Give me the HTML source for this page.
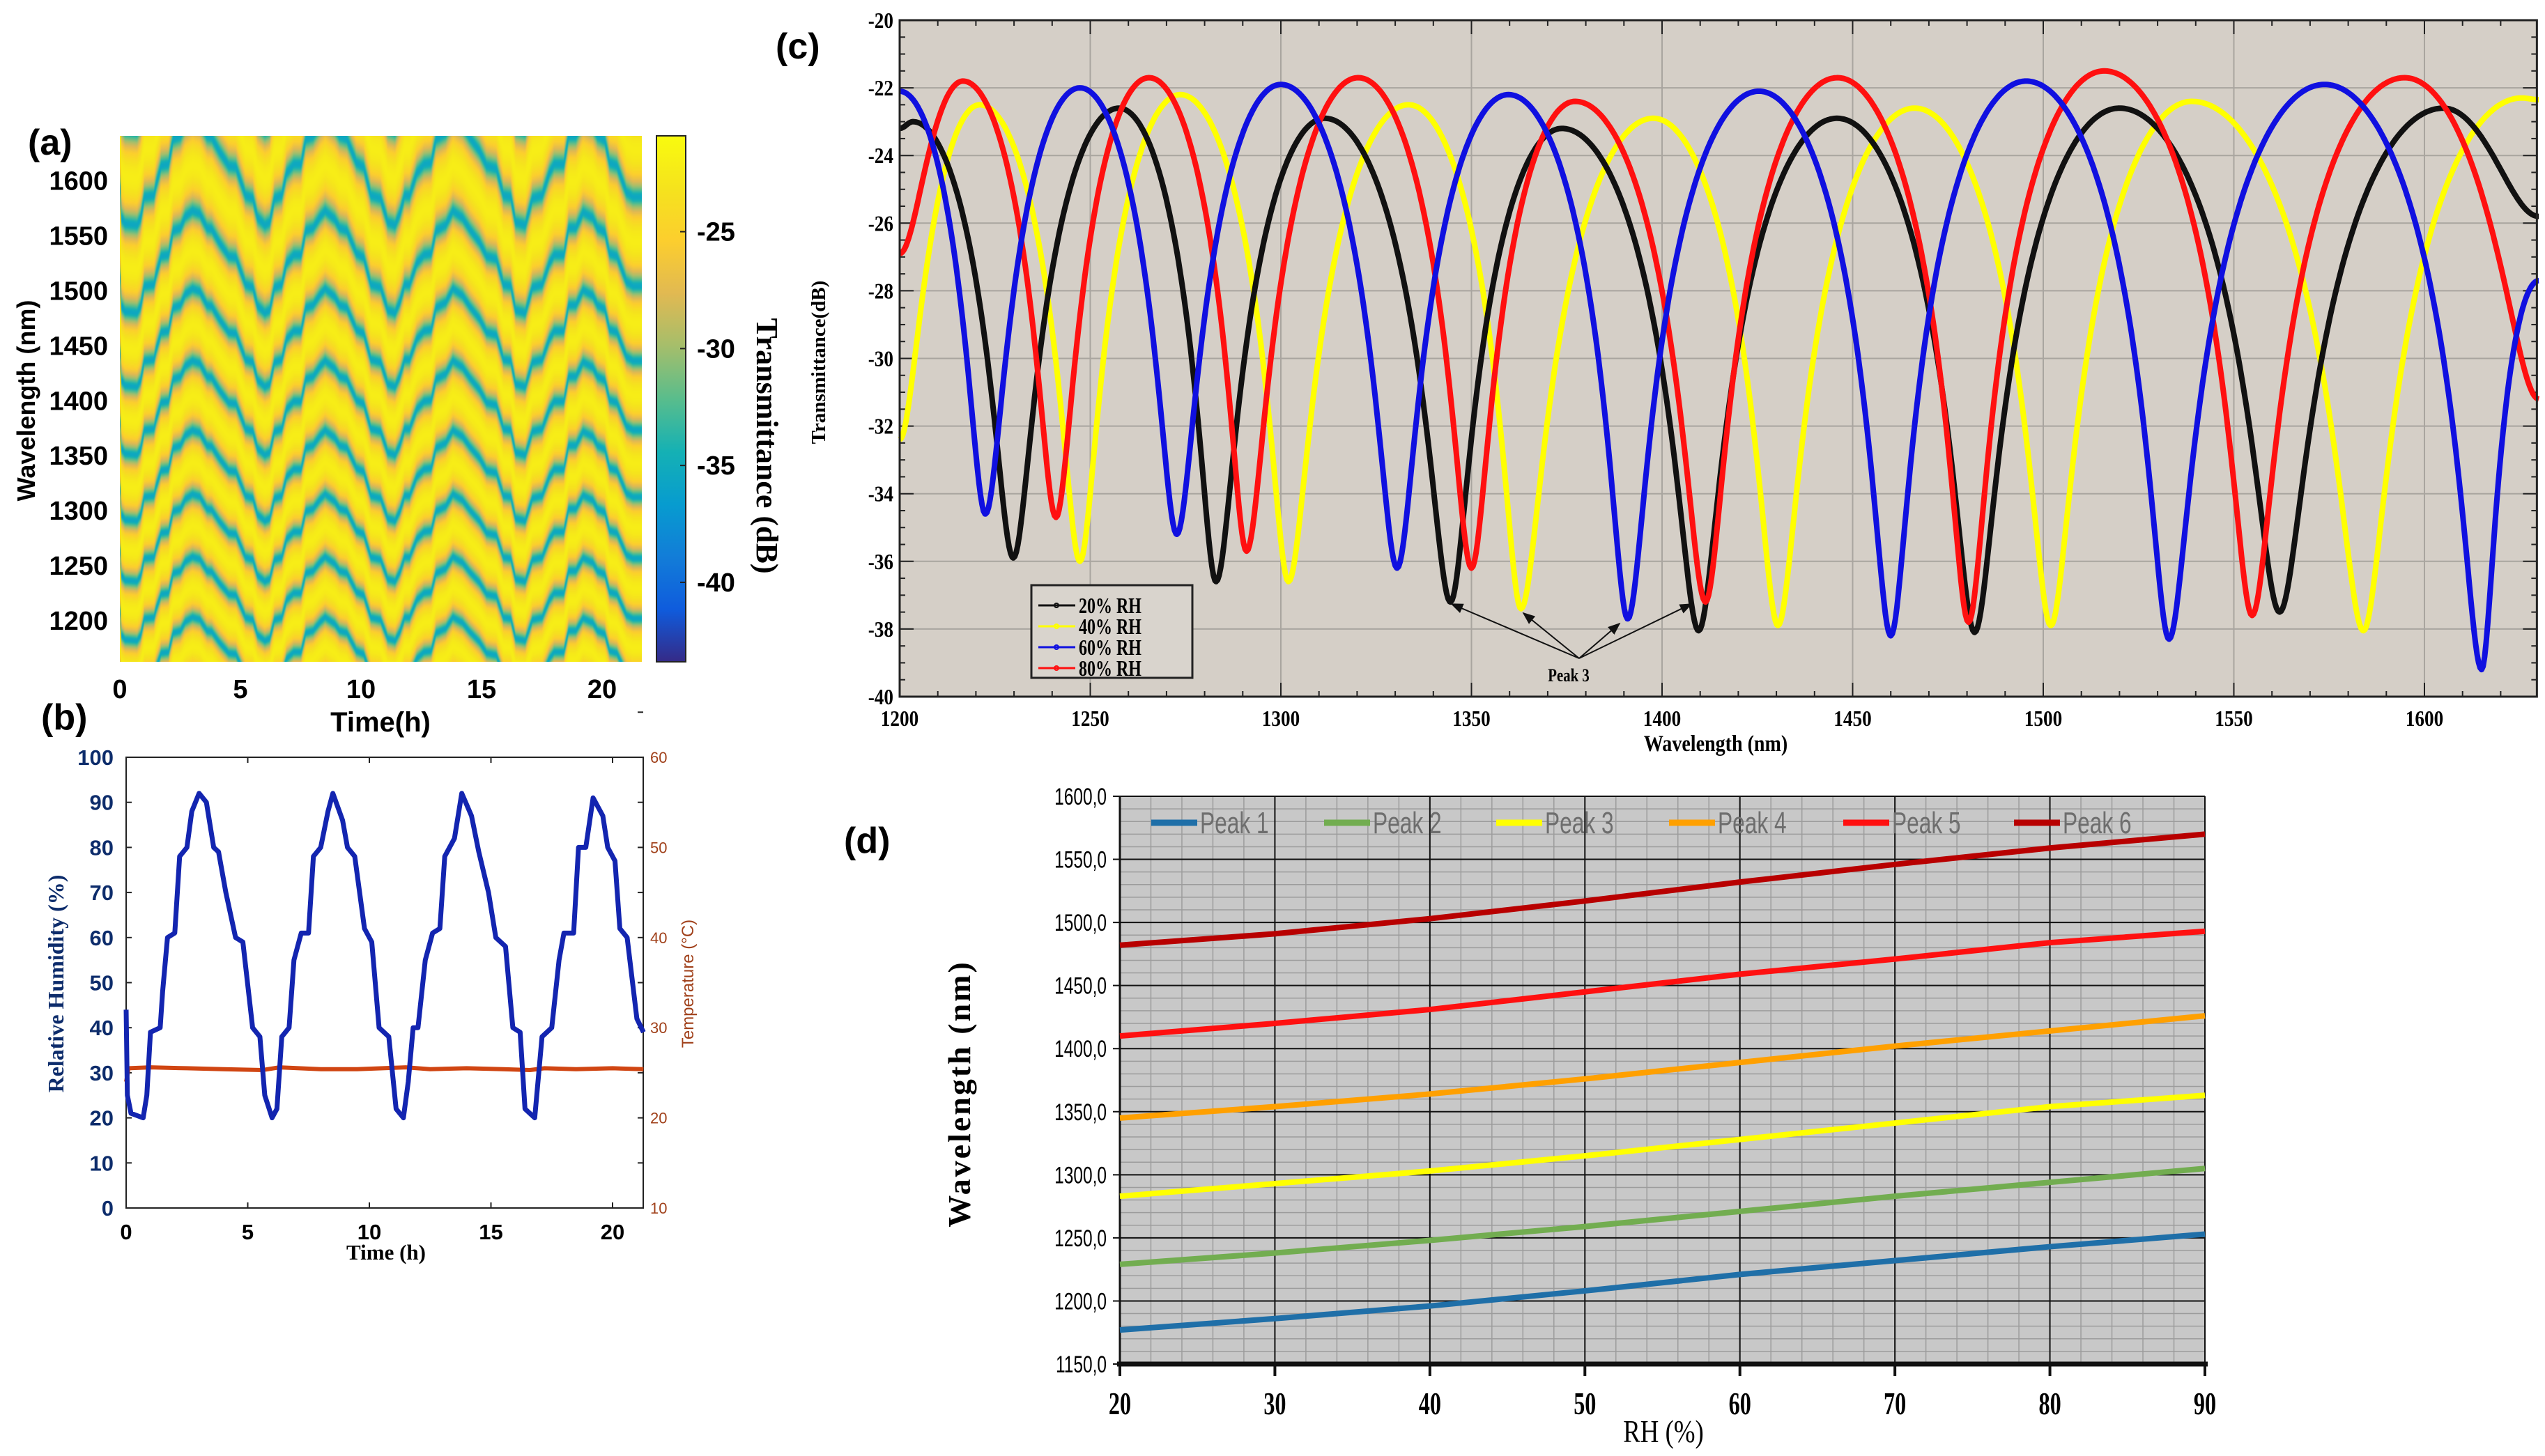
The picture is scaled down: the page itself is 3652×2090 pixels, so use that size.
<!DOCTYPE html>
<html><head><meta charset="utf-8">
<style>
body{margin:0;width:3652px;height:2090px;background:#fff;position:relative;overflow:hidden}
svg text{font-family:"Liberation Sans",sans-serif}
.serif{font-family:"Liberation Serif",serif}
</style></head>
<body>
<svg id="s" width="3652" height="2090" style="position:absolute;left:0;top:0">
<defs>
<linearGradient id="parula" x1="0" y1="1" x2="0" y2="0">
<stop offset="0" stop-color="#352a87"/><stop offset="0.1" stop-color="#0f5cdd"/><stop offset="0.2" stop-color="#127dd8"/><stop offset="0.3" stop-color="#079ccf"/><stop offset="0.4" stop-color="#15b1b4"/><stop offset="0.5" stop-color="#59bd8c"/><stop offset="0.6" stop-color="#a5be6b"/><stop offset="0.7" stop-color="#e1b952"/><stop offset="0.8" stop-color="#fcce2e"/><stop offset="0.9" stop-color="#f5e31d"/><stop offset="1" stop-color="#f9fb0e"/>
</linearGradient>
<marker id="ah" viewBox="0 0 10 10" refX="9" refY="5" markerWidth="9" markerHeight="9" orient="auto"><path d="M0,1 L10,5 L0,9 z" fill="#111"/></marker>
</defs>
<text x="40" y="222" font-size="52" font-weight="bold">(a)</text>
<text x="59" y="1047" font-size="52" font-weight="bold">(b)</text>
<text x="1113" y="84" font-size="52" font-weight="bold">(c)</text>
<text x="1211" y="1224" font-size="52" font-weight="bold">(d)</text>
<rect x="942" y="195" width="42" height="755" fill="url(#parula)" stroke="#222" stroke-width="2"/>
<text x="0" y="0" font-size="36" font-weight="bold" text-anchor="middle" transform="translate(50,575) rotate(-90)">Wavelength (nm)</text>
<text x="546" y="1050" font-size="40" font-weight="bold" text-anchor="middle">Time(h)</text>
<text class="serif" x="0" y="0" font-size="44" font-weight="bold" text-anchor="middle" transform="translate(1086,640) rotate(90)">Transmittance (dB)</text>
<text class="serif" x="0" y="0" font-size="32" font-weight="bold" fill="#0d2c6b" text-anchor="middle" transform="translate(91,1412) rotate(-90)">Relative Humidity (%)</text>
<text x="0" y="0" font-size="24" fill="#a0401a" text-anchor="middle" transform="translate(995,1412) rotate(-90)">Temperature (°C)</text>
<text class="serif" x="554" y="1808" font-size="31" font-weight="bold" text-anchor="middle">Time (h)</text>
<text class="serif" x="0" y="0" font-size="29" font-weight="bold" text-anchor="middle" transform="translate(1184,520) rotate(-90)">Transmittance(dB)</text>
<text class="serif" x="0" y="0" font-size="33" font-weight="bold" text-anchor="middle" transform="translate(2462,1078) scale(0.85,1)">Wavelength (nm)</text>
<text class="serif" x="0" y="0" font-size="46" font-weight="bold" text-anchor="middle" letter-spacing="3" transform="translate(1392,1570) rotate(-90)">Wavelength (nm)</text>
<text class="serif" x="0" y="0" font-size="46" text-anchor="middle" transform="translate(2387,2070) scale(0.8,1)">RH (%)</text>
</svg>
<canvas id="hm" width="749" height="755" style="position:absolute;left:172px;top:195px"></canvas>
<script>
const rhTime=[0,0.05,0.2,0.7,0.85,1.0,1.4,1.5,1.7,2.0,2.2,2.5,2.7,3.0,3.3,3.6,3.8,4.1,4.5,4.8,5.2,5.5,5.7,6.0,6.2,6.4,6.7,6.9,7.2,7.5,7.7,8.0,8.3,8.5,8.9,9.1,9.4,9.8,10.1,10.4,10.8,11.1,11.4,11.6,11.8,12.0,12.3,12.6,12.9,13.1,13.5,13.8,14.2,14.5,14.9,15.2,15.6,15.9,16.2,16.4,16.8,17.1,17.5,17.8,18.0,18.4,18.6,18.9,19.2,19.6,19.8,20.1,20.3,20.6,21.0,21.27];
const rhValues=[44,25,21,20,25,39,40,48,60,61,78,80,88,92,90,80,79,70,60,59,40,38,25,20,22,38,40,55,61,61,78,80,88,92,86,80,78,62,59,40,38,22,20,28,40,40,55,61,62,78,82,92,87,79,70,60,58,40,39,22,20,38,40,55,61,61,80,80,91,87,80,77,62,60,42,39];
const tempTime=[0,0.1,1,2.5,4,5.6,6.3,8,9.5,11.5,12.5,14,15.5,16.6,17.2,18.5,20,21.27];
const tempValues=[24,25.5,25.6,25.5,25.4,25.3,25.6,25.4,25.4,25.6,25.4,25.5,25.4,25.3,25.5,25.4,25.5,25.4];
const rh20Nm=[1200,1203.5,1229.8,1257.5,1283,1311.5,1344.5,1373.7,1409.6,1445.9,1482,1520,1562,1605,1630];
const rh20Db=[-23.2,-23.0,-35.9,-22.6,-36.6,-22.9,-37.2,-23.2,-38.05,-22.9,-38.1,-22.6,-37.5,-22.6,-25.8];
const rh40Nm=[1200,1221,1247.3,1273.6,1302,1333.5,1363,1397.7,1430.4,1466.3,1502,1539,1584,1625.5,1630];
const rh40Db=[-32.4,-22.5,-36.0,-22.2,-36.6,-22.5,-37.4,-22.9,-37.9,-22.6,-37.9,-22.4,-38.05,-22.3,-22.35];
const rh60Nm=[1200,1222.5,1247.3,1272.7,1300,1330.5,1359.7,1391,1425.4,1460,1495.5,1533,1573.8,1615,1630];
const rh60Db=[-22.1,-34.6,-22.0,-35.2,-21.9,-36.2,-22.2,-37.7,-22.1,-38.2,-21.8,-38.3,-21.9,-39.2,-27.7];
const rh80Nm=[1200,1216.6,1241,1265.4,1291,1320.3,1350,1377.2,1411.4,1446,1480.4,1516,1554.8,1594.8,1630];
const rh80Db=[-26.9,-21.8,-34.7,-21.7,-35.7,-21.7,-36.2,-22.4,-37.2,-21.7,-37.8,-21.5,-37.6,-21.7,-31.2];
const cLegend=['20% RH','40% RH','60% RH','80% RH'];
const rhLevels=[20,30,40,50,60,70,80,90];
const peak1=[1177,1186,1196,1208,1221,1232,1243,1253];
const peak2=[1229,1238,1248,1259,1271,1283,1294,1305];
const peak3=[1283,1293,1303,1315,1328,1341,1354,1363];
const peak4=[1345,1354,1364,1376,1389,1402,1414,1426];
const peak5=[1410,1420,1431,1445,1459,1471,1484,1493];
const peak6=[1482,1491,1503,1517,1532,1546,1559,1570];
const peakNames=['Peak 1','Peak 2','Peak 3','Peak 4','Peak 5','Peak 6'];
const baseDips=[1030,1080,1130,1182,1236,1291,1351,1413,1480,1560,1645,1735];
const aYTicks=[1200,1250,1300,1350,1400,1450,1500,1550,1600];
const aXTicks=[0,5,10,15,20];
const cbTicks=[-25,-30,-35,-40];
const bYTicks=[0,10,20,30,40,50,60,70,80,90,100];
const bXTicks=[0,5,10,15,20];
const bTTicks=[10,20,30,40,50,60];
const cXTicks=[1200,1250,1300,1350,1400,1450,1500,1550,1600];
const cYTicks=[-20,-22,-24,-26,-28,-30,-32,-34,-36,-38,-40];
const dYTicks=[1150,1200,1250,1300,1350,1400,1450,1500,1550,1600];
const dXTicks=[20,30,40,50,60,70,80,90];

const NS='http://www.w3.org/2000/svg';
const svg=document.getElementById('s');
function el(tag,attrs,parent){const e=document.createElementNS(NS,tag);for(const k in attrs)e.setAttribute(k,attrs[k]);(parent||svg).appendChild(e);return e;}
function txt(x,y,s,attrs){const e=el('text',Object.assign({x:x,y:y},attrs||{}));e.textContent=s;return e;}
function interp(xs,ys,x){if(x<=xs[0])return ys[0];for(let i=1;i<xs.length;i++){if(x<=xs[i]){const f=(x-xs[i-1])/(xs[i]-xs[i-1]);return ys[i-1]+f*(ys[i]-ys[i-1]);}}return ys[ys.length-1];}

// PANEL A
const aX=t=>172+t*34.6, aY=nm=>195+(1641-nm)*755/(1641-1162.6);
const cbY=v=>195+(-20.9-v)*755/22.5;
aYTicks.forEach(v=>{const t=txt(155,aY(v)+13,String(v),{'font-size':38,'font-weight':'bold','text-anchor':'end'});

});
aXTicks.forEach(v=>{const t=txt(aX(v),1002,String(v),{'font-size':38,'font-weight':'bold','text-anchor':'middle'});

});
cbTicks.forEach(v=>{const t=txt(1000,cbY(v)+13,String(v),{'font-size':38,'font-weight':'bold'});


const k=el('line',{x1:976,x2:984,y1:cbY(v),y2:cbY(v),stroke:'#222','stroke-width':2});

});
(function(){
 const cv=document.getElementById('hm'),ctx=cv.getContext('2d');const W=749,H=755;
 const img=ctx.createImageData(W,H);
 const stops=[[53,42,135],[15,92,221],[18,125,216],[7,156,207],[21,177,180],[89,189,140],[165,190,107],[225,185,82],[252,206,46],[245,227,29],[249,251,14]];
 function cmap(v){let f=(v+43.4)/22.5;f=Math.max(0,Math.min(0.9999,f))*10;const i=Math.floor(f),r=f-i;const a=stops[i],b=stops[i+1];return [a[0]+(b[0]-a[0])*r,a[1]+(b[1]-a[1])*r,a[2]+(b[2]-a[2])*r];}
 const Imax=Math.pow(10,-2.22),Imin=Math.pow(10,-3.55);
 for(let x=0;x<W;x++){
  const t=x/W*21.65;const rh=interp(rhTime,rhValues,t);
  const d=baseDips.map(b=>b+(1.06+(b-1182)*0.00077)*(rh-20));
  for(let y=0;y<H;y++){
   const nm=1641-y/H*(1641-1162.6);let k=0;while(k<d.length-2&&nm>d[k+1])k++;
   const f=(nm-d[k])/(d[k+1]-d[k]);
   const I=Imin+(Imax-Imin)*(1-Math.cos(2*Math.PI*f))/2;
   const c=cmap(10*Math.log10(I));const p=(y*W+x)*4;
   img.data[p]=c[0];img.data[p+1]=c[1];img.data[p+2]=c[2];img.data[p+3]=255;}
 }
 ctx.putImageData(img,0,0);
})();

// PANEL B
const bX=t=>181+t*34.9, bY=v=>1734-v*6.47, bT=c=>1734-(c-10)*12.94;
el('rect',{x:181,y:1087,width:742,height:647,fill:'none',stroke:'#222','stroke-width':2});
bYTicks.forEach(v=>{const t=txt(163,bY(v)+11,String(v),{'font-size':31,'font-weight':'bold',fill:'#0d2c6b','text-anchor':'end'});


el('line',{x1:181,x2:189,y1:bY(v),y2:bY(v),stroke:'#222','stroke-width':2});});
bXTicks.forEach(v=>{const t=txt(bX(v),1779,String(v),{'font-size':31,'font-weight':'bold','text-anchor':'middle'});


el('line',{x1:bX(v),x2:bX(v),y1:1734,y2:1726,stroke:'#222','stroke-width':2});
el('line',{x1:bX(v),x2:bX(v),y1:1087,y2:1095,stroke:'#222','stroke-width':2});});
bTTicks.forEach(v=>{const t=txt(933,bT(v)+8,String(v),{'font-size':22,fill:'#a0401a'});


el('line',{x1:915,x2:923,y1:bT(v),y2:bT(v),stroke:'#222','stroke-width':2});
el('line',{x1:915,x2:923,y1:bT(v+5),y2:bT(v+5),stroke:'#222','stroke-width':2});});
{const tl=el('polyline',{points:tempTime.map((t,i)=>bX(t)+','+bT(tempValues[i])).join(' '),fill:'none',stroke:'#d04512','stroke-width':6});


const rl=el('polyline',{points:rhTime.map((t,i)=>bX(t)+','+bY(rhValues[i])).join(' '),fill:'none',stroke:'#1325b0','stroke-width':7,'stroke-linejoin':'round'});

}

// PANEL C
const cX=nm=>1291+(nm-1200)*5.47, cY=db=>29+(-20-db)*48.55;
const cR=cX(1629.5);
el('rect',{x:1291,y:29,width:cR-1291,height:971,fill:'#d5cfc7'});
cXTicks.slice(1).forEach(v=>el('line',{x1:cX(v),x2:cX(v),y1:29,y2:1000,stroke:'#a9a59f','stroke-width':2}));
cYTicks.forEach(v=>el('line',{x1:1291,x2:cR,y1:cY(v),y2:cY(v),stroke:'#a9a59f','stroke-width':2}));
for(let nm=1200;nm<=1629;nm+=10){const L=(nm%50===0)?20:8;
 el('line',{x1:cX(nm),x2:cX(nm),y1:1000,y2:1000-L,stroke:'#222','stroke-width':2});
 el('line',{x1:cX(nm),x2:cX(nm),y1:29,y2:29+L,stroke:'#222','stroke-width':2});}
for(let db=-20;db>=-40;db-=0.5){const L=(db%2===0)?20:8;
 el('line',{x1:1291,x2:1291+L,y1:cY(db),y2:cY(db),stroke:'#222','stroke-width':2});
 el('line',{x1:cR,x2:cR-L,y1:cY(db),y2:cY(db),stroke:'#222','stroke-width':2});}
cXTicks.forEach(v=>{const t=txt(0,0,String(v),{'font-size':32,'font-weight':'bold','text-anchor':'middle',class:'serif',transform:'translate('+cX(v)+',1042) scale(0.85,1)'});

});
cYTicks.forEach(v=>{const t=txt(0,0,String(v),{'font-size':32,'font-weight':'bold','text-anchor':'end',class:'serif',transform:'translate(1282,'+(cY(v)+11)+') scale(0.85,1)'});

});
function specPath(nms,dbs){const pts=[];for(let i=1;i<nms.length;i++){const a=Math.pow(10,dbs[i-1]/10),b=Math.pow(10,dbs[i]/10);
 for(let nm=nms[i-1];nm<nms[i];nm+=0.4){const f=(nm-nms[i-1])/(nms[i]-nms[i-1]);const I=a+(b-a)*(1-Math.cos(Math.PI*f))/2;pts.push(cX(nm).toFixed(1)+','+cY(10*Math.log10(I)).toFixed(1));}}
 pts.push(cX(nms[nms.length-1])+','+cY(dbs[dbs.length-1]));return pts.join(' ');}
const cSeries=[[rh40Nm,rh40Db,'#ffff00','spectrum-40rh'],[rh20Nm,rh20Db,'#111111','spectrum-20rh'],[rh80Nm,rh80Db,'#ff1010','spectrum-80rh'],[rh60Nm,rh60Db,'#1010e0','spectrum-60rh']];
cSeries.forEach(s=>{const p=el('polyline',{points:specPath(s[0],s[1]),fill:'none',stroke:s[2],'stroke-width':8,'stroke-linejoin':'round'});

});
el('rect',{x:1291,y:29,width:cR-1291,height:971,fill:'none',stroke:'#222','stroke-width':3});
{const lg=el('rect',{x:1480,y:840,width:231,height:133,fill:'#d9d4cd',stroke:'#222','stroke-width':3});


const lc=['#111','#ffff00','#1010e0','#ff1010'];
cLegend.forEach((n,i)=>{const y=869+i*30;
 el('line',{x1:1490,x2:1543,y1:y,y2:y,stroke:lc[i],'stroke-width':3});
 el('circle',{cx:1516,cy:y,r:3,fill:'none',stroke:lc[i],'stroke-width':2});
 const t=txt(0,0,n,{'font-size':32,'font-weight':'bold',class:'serif',transform:'translate(1548,'+(y+11)+') scale(0.75,1)'});
 
 });}
[[2083,867],[2186,880],[2324,895],[2427,867]].forEach(p=>el('line',{x1:2266,y1:945,x2:p[0],y2:p[1],stroke:'#111','stroke-width':2,'marker-end':'url(#ah)'}));
{const t=txt(0,0,'Peak 3',{'font-size':26,'font-weight':'bold',class:'serif','text-anchor':'middle',transform:'translate(2251,978) scale(0.8,1)'});

}

// PANEL D
const dX=r=>1607+(r-20)*1557/70, dY=nm=>1958-(nm-1150)*815/450;
el('rect',{x:1607,y:1143,width:1557,height:815,fill:'#c8c8c8'});
for(let r=20;r<=90;r+=2)el('line',{x1:dX(r),x2:dX(r),y1:1143,y2:1958,stroke:'#9c9c9c','stroke-width':1.5});
for(let nm=1150;nm<=1600;nm+=10)el('line',{x1:1607,x2:3164,y1:dY(nm),y2:dY(nm),stroke:'#9c9c9c','stroke-width':1.5});
dXTicks.forEach(v=>el('line',{x1:dX(v),x2:dX(v),y1:1143,y2:1958,stroke:'#111','stroke-width':2}));
dYTicks.forEach(v=>{el('line',{x1:1597,x2:3164,y1:dY(v),y2:dY(v),stroke:'#111','stroke-width':2});
const t=txt(0,0,v+',0',{'font-size':34,'text-anchor':'end',transform:'translate(1588,'+(dY(v)+12)+') scale(0.72,1)'});

});
el('line',{x1:1607,x2:1607,y1:1143,y2:1958,stroke:'#111','stroke-width':3});
el('line',{x1:1603,x2:3168,y1:1958,y2:1958,stroke:'#111','stroke-width':7});
dXTicks.forEach(v=>{el('line',{x1:dX(v),x2:dX(v),y1:1958,y2:1975,stroke:'#111','stroke-width':4});
const t=txt(0,0,String(v),{'font-size':46,'font-weight':'bold',class:'serif','text-anchor':'middle',transform:'translate('+dX(v)+',2030) scale(0.7,1)'});

});
const dSeries=[[peak1,'#1f6fa8','peak1-line'],[peak2,'#72ad50','peak2-line'],[peak3,'#ffff00','peak3-line'],[peak4,'#ffa000','peak4-line'],[peak5,'#ff1010','peak5-line'],[peak6,'#b80000','peak6-line']];
dSeries.forEach(s=>{const p=el('polyline',{points:rhLevels.map((r,i)=>dX(r)+','+dY(s[0][i])).join(' '),fill:'none',stroke:s[1],'stroke-width':8,'stroke-linejoin':'round'});

});
[1652,1900,2147,2395,2645,2890].forEach((x,i)=>{el('line',{x1:x,x2:x+66,y1:1181,y2:1181,stroke:dSeries[i][1],'stroke-width':9});
const t=txt(0,0,peakNames[i],{'font-size':44,fill:'#6e6e6e',transform:'translate('+(x+70)+',1196) scale(0.72,1)'});

});
</script>
</body></html>
